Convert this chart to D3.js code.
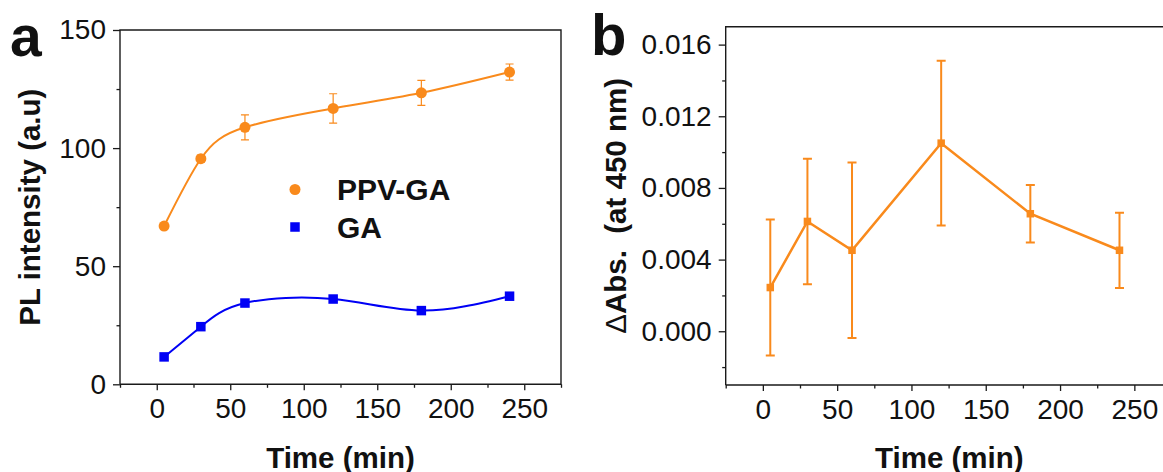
<!DOCTYPE html>
<html>
<head>
<meta charset="utf-8">
<script src="https://cdn.jsdelivr.net/npm/d3@7"></script>
<style>
  html, body { margin: 0; padding: 0; background: #fff; }
  svg { display: block; }
  text { font-family: "Liberation Sans", Arial, sans-serif; fill: #111; }
</style>
</head>
<body>
<svg id="chart" width="1163" height="472"></svg>
<script>
// ---------- data ----------
const times = [5, 30, 60, 120, 180, 240];
const ppvGA = [67.0, 95.5, 108.8, 116.8, 123.4, 132.2];
const ppvGAErr = [1.0, 1.5, 5.3, 6.2, 5.3, 3.4];
const gaVals = [11.6, 24.4, 34.4, 36.1, 31.2, 37.3];
const dAbs = [0.00244, 0.00613, 0.00452, 0.0105, 0.00656, 0.00452];
const dAbsErr = [0.0038, 0.0035, 0.0049, 0.0046, 0.0016, 0.0021];
const xMajor = [0, 50, 100, 150, 200, 250];
const xMinor = [-25, 25, 75, 125, 175, 225, 275];
const yAMajor = [0, 50, 100, 150];
const yAMinor = [25, 75, 125];
const yBMajor = [0, 0.004, 0.008, 0.012, 0.016];
const yBMinor = [-0.002, 0.002, 0.006, 0.010, 0.014];
const legendLabels = ["PPV-GA", "GA"];

const ORANGE = "#F98A1C";
const BLUE = "#0000F5";
const AXIS = "#1a1a1a";
const FONT = '"Liberation Sans", Arial, sans-serif';

const svg = d3.select("#chart");

function drawAxes(g, x, y, box, yMaj, yMin, yFmt) {
  // bottom axis major
  const bx = g.append("g").attr("transform", `translate(0,${box.bottom})`)
    .call(d3.axisBottom(x).tickValues(xMajor).tickSize(6).tickPadding(8).tickSizeOuter(0));
  bx.append("g").call(d3.axisBottom(x).tickValues(xMinor).tickSize(3.5).tickFormat("").tickSizeOuter(0));
  const ly = g.append("g").attr("transform", `translate(${box.left},0)`)
    .call(d3.axisLeft(y).tickValues(yMaj).tickSize(7).tickPadding(7).tickSizeOuter(0).tickFormat(yFmt));
  ly.append("g").call(d3.axisLeft(y).tickValues(yMin).tickSize(3.5).tickFormat("").tickSizeOuter(0));
  g.selectAll(".domain").attr("stroke", "none");
  g.selectAll(".tick line").attr("stroke", AXIS).attr("stroke-width", 1.3);
  g.selectAll(".tick text").attr("font-size", 28).attr("font-family", FONT).attr("fill", "#111");
  // frame
  g.append("path")
    .attr("d", `M${box.left},${box.bottom}V${box.top}H${box.right}V${box.bottom}H${box.left}`)
    .attr("fill", "none").attr("stroke", AXIS).attr("stroke-width", 1.4);
}

// ---------- panel a ----------
{
  const box = { left: 120, right: 561, top: 30, bottom: 384.3 };
  const x = d3.scaleLinear().domain([-25, 275]).range([box.left, box.right]);
  const y = d3.scaleLinear().domain([0, 150]).range([box.bottom, box.top]);
  const g = svg.append("g");
  drawAxes(g, x, y, box, yAMajor, yAMinor, d3.format("d"));

  const line = d3.line().x((d, i) => x(times[i])).y(d => y(d)).curve(d3.curveNatural);
  g.append("path").datum(ppvGA).attr("d", line).attr("fill", "none").attr("stroke", ORANGE).attr("stroke-width", 2);
  g.append("path").datum(gaVals).attr("d", line).attr("fill", "none").attr("stroke", BLUE).attr("stroke-width", 2);

  // error bars
  const eb = g.append("g").attr("stroke", ORANGE).attr("stroke-width", 1.2).attr("fill", "none");
  times.forEach((t, i) => {
    const cx = x(t), y1 = y(ppvGA[i] + ppvGAErr[i]), y0 = y(ppvGA[i] - ppvGAErr[i]);
    eb.append("path").attr("d", `M${cx},${y0}V${y1}M${cx - 4},${y1}H${cx + 4}M${cx - 4},${y0}H${cx + 4}`);
  });
  g.selectAll("circle.p").data(ppvGA).join("circle").attr("class", "p")
    .attr("cx", (d, i) => x(times[i])).attr("cy", d => y(d)).attr("r", 5.5).attr("fill", ORANGE);
  g.selectAll("rect.s").data(gaVals).join("rect").attr("class", "s")
    .attr("x", (d, i) => x(times[i]) - 4.75).attr("y", d => y(d) - 4.75)
    .attr("width", 9.5).attr("height", 9.5).attr("fill", BLUE);

  // legend
  g.append("circle").attr("cx", 295).attr("cy", 189.5).attr("r", 5.5).attr("fill", ORANGE);
  g.append("rect").attr("x", 295 - 4.75).attr("y", 227 - 4.75).attr("width", 9.5).attr("height", 9.5).attr("fill", BLUE);
  g.append("text").attr("x", 337).attr("y", 200).attr("font-size", 30).attr("font-weight", "bold").text(legendLabels[0]);
  g.append("text").attr("x", 337).attr("y", 237.5).attr("font-size", 30).attr("font-weight", "bold").text(legendLabels[1]);

  // axis titles
  g.append("text").attr("x", (box.left + box.right) / 2).attr("y", 468).attr("text-anchor", "middle")
    .attr("font-size", 29.5).attr("font-weight", "bold").text("Time (min)");
  g.append("text").attr("transform", `translate(40,${(box.top + box.bottom) / 2}) rotate(-90)`)
    .attr("text-anchor", "middle").attr("font-size", 29.5).attr("font-weight", "bold").text("PL intensity (a.u)");
  g.append("text").attr("x", 10).attr("y", 56).attr("font-size", 57).attr("font-weight", "bold").text("a");
}

// ---------- panel b ----------
{
  const box = { left: 725.7, right: 1171.5, top: 26.7, bottom: 385 };
  const x = d3.scaleLinear().domain([-25, 275]).range([box.left, box.right]);
  const y = d3.scaleLinear().domain([-0.003, 0.017]).range([box.bottom, box.top]);
  const g = svg.append("g");
  drawAxes(g, x, y, box, yBMajor, yBMinor, d3.format(".3f"));

  const line = d3.line().x((d, i) => x(times[i])).y(d => y(d));
  g.append("path").datum(dAbs).attr("d", line).attr("fill", "none").attr("stroke", ORANGE).attr("stroke-width", 2.5);
  const eb = g.append("g").attr("stroke", ORANGE).attr("stroke-width", 2).attr("fill", "none");
  times.forEach((t, i) => {
    const cx = x(t), y1 = y(dAbs[i] + dAbsErr[i]), y0 = y(dAbs[i] - dAbsErr[i]);
    eb.append("path").attr("d", `M${cx},${y0}V${y1}M${cx - 4.5},${y1}H${cx + 4.5}M${cx - 4.5},${y0}H${cx + 4.5}`);
  });
  g.selectAll("rect.s").data(dAbs).join("rect").attr("class", "s")
    .attr("x", (d, i) => x(times[i]) - 3.75).attr("y", d => y(d) - 3.75)
    .attr("width", 7.5).attr("height", 7.5).attr("fill", ORANGE);

  g.append("text").attr("x", (box.left + 1133) / 2 + 20).attr("y", 468).attr("text-anchor", "middle")
    .attr("font-size", 29.5).attr("font-weight", "bold").text("Time (min)");
  const yl = g.append("text").attr("transform", `translate(626,${(box.top + box.bottom) / 2}) rotate(-90)`)
    .attr("text-anchor", "middle").attr("font-size", 29.5).attr("font-weight", "bold")
    .style("white-space", "pre");
  yl.append("tspan").attr("font-weight", "normal").text("\u0394");
  yl.append("tspan").text("Abs.  (at 450 nm)");
  g.append("text").attr("x", 591).attr("y", 55).attr("font-size", 58).attr("font-weight", "bold").text("b");
}
</script>
</body>
</html>
